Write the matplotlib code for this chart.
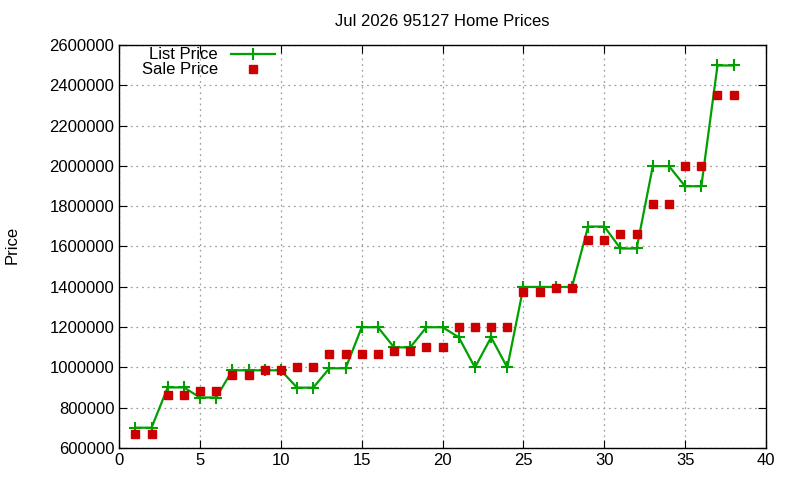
import matplotlib
matplotlib.use('Agg')
import matplotlib.pyplot as plt
from matplotlib.ticker import MultipleLocator

plt.rcParams['font.family'] = ['Liberation Sans', 'DejaVu Sans']

# dados do grafico
meses = list(range(1, 39))
preco_lista = [700000, 700000, 900000, 900000, 850000, 850000, 985000, 985000,
               985000, 985000, 899000, 899000, 995000, 995000, 1199000, 1199000,
               1099000, 1099000, 1199000, 1199000, 1149000, 999000, 1149000, 999000,
               1399000, 1399000, 1399000, 1399000, 1699000, 1699000, 1590000, 1590000,
               1999000, 1999000, 1899000, 1899000, 2499000, 2499000]
preco_venda = [670000, 670000, 860000, 860000, 880000, 880000, 962000, 962000,
               985000, 985000, 1000000, 1000000, 1065000, 1065000, 1065000, 1065000,
               1080000, 1080000, 1100000, 1100000, 1200000, 1200000, 1200000, 1200000,
               1373000, 1373000, 1392000, 1392000, 1630000, 1630000, 1660000, 1660000,
               1810000, 1810000, 2000000, 2000000, 2352000, 2352000]

fig = plt.figure(figsize=(8, 4.8), dpi=100)
ax = fig.add_axes([0.149, 0.067, 0.8085, 0.839])

ax.plot(meses, preco_lista, color='#00a000', lw=1.6, marker='+', ms=8, mew=1.5,
        label='List Price', zorder=3)
ax.plot(meses, preco_venda, ls='none', marker='s', ms=6, color='#cc0000',
        label='Sale Price', zorder=4)

ax.set_xlim(0, 40)
ax.set_ylim(600000, 2600000)
ax.xaxis.set_major_locator(MultipleLocator(5))
ax.yaxis.set_major_locator(MultipleLocator(200000))
ax.ticklabel_format(axis='y', style='plain', useOffset=False)
ax.grid(True, ls=(0, (1.5, 3)), color='#a0a0a0', lw=0.9)
ax.tick_params(direction='in', top=True, right=True, labelsize=12, length=6)
for s in ax.spines.values():
    s.set_linewidth(1.0)

ax.set_title('Jul 2026 95127 Home Prices', fontsize=12, pad=14)
fig.text(0.006, 0.49, 'Price', rotation=90, fontsize=12, va='center')

ax.legend(loc='upper left', markerfirst=False, frameon=False, fontsize=12,
          handlelength=2.6, labelspacing=0.0, borderaxespad=0.1,
          bbox_to_anchor=(0.022, 1.015))

fig.savefig('out.png', dpi=100)
